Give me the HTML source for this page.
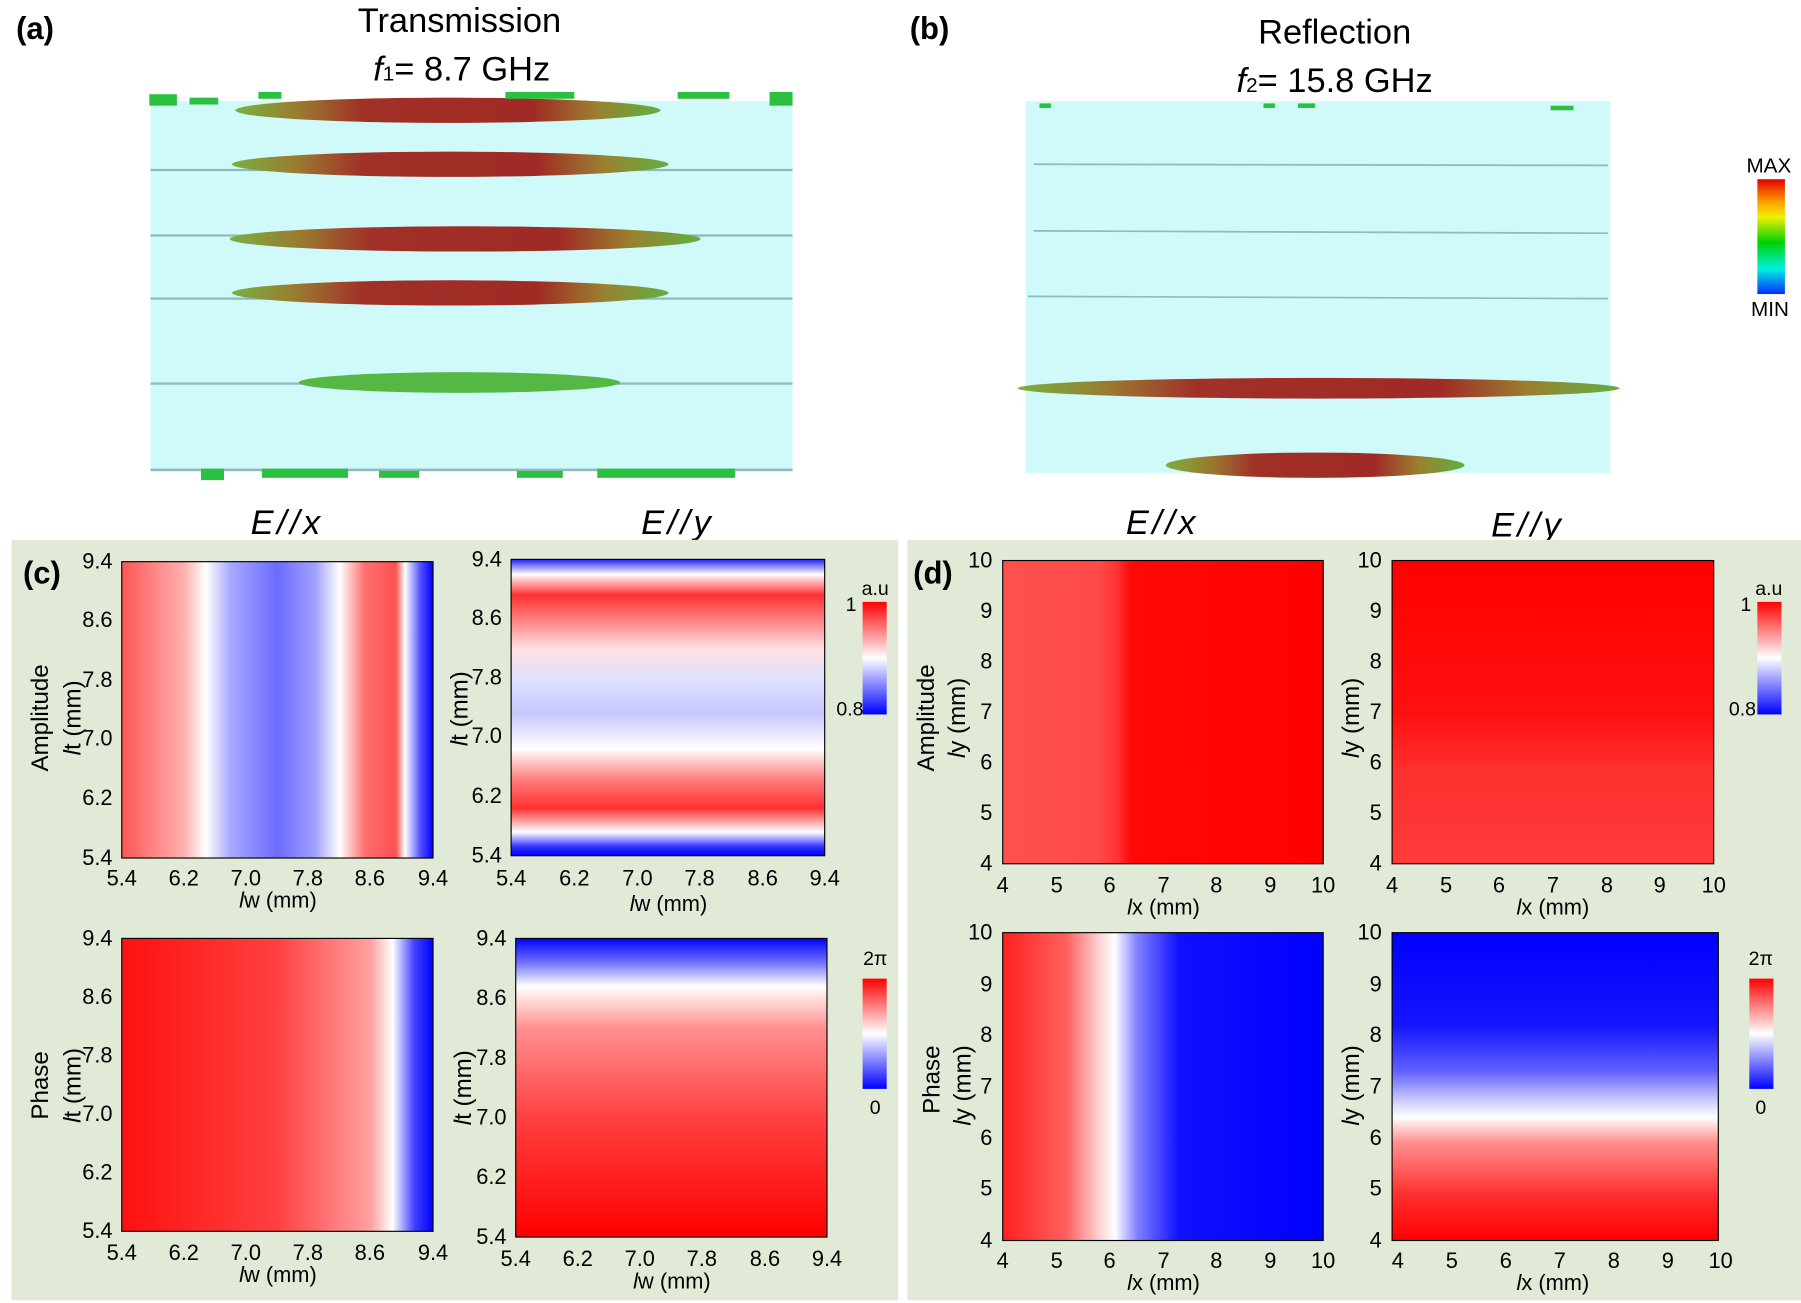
<!DOCTYPE html>
<html><head><meta charset="utf-8"><style>
html,body{margin:0;padding:0;background:#fff;}
svg{display:block;}
text{font-family:"Liberation Sans",Arial,sans-serif;}
</style></head><body>
<svg width="1801" height="1303" viewBox="0 0 1568 1134.4" xmlns="http://www.w3.org/2000/svg">
<defs>
<linearGradient id="gc1" x1="0" x2="1" y1="0" y2="0">
<stop offset="0" stop-color="#ff5555"/><stop offset="0.2" stop-color="#ffb0b0"/><stop offset="0.27" stop-color="#ffffff"/><stop offset="0.35" stop-color="#a8a8ff"/><stop offset="0.5" stop-color="#6b6bff"/><stop offset="0.62" stop-color="#a0a0ff"/><stop offset="0.7" stop-color="#ffffff"/><stop offset="0.78" stop-color="#ff7070"/><stop offset="0.88" stop-color="#ff5050"/><stop offset="0.91" stop-color="#ffffff"/><stop offset="0.96" stop-color="#5050ff"/><stop offset="1" stop-color="#0000ff"/>
</linearGradient>
<linearGradient id="gc2" x1="0" x2="0" y1="0" y2="1">
<stop offset="0" stop-color="#2020ff"/><stop offset="0.05" stop-color="#ffffff"/><stop offset="0.12" stop-color="#ff3030"/><stop offset="0.22" stop-color="#ff9090"/><stop offset="0.3" stop-color="#ffe0e0"/><stop offset="0.4" stop-color="#e0e0ff"/><stop offset="0.52" stop-color="#c8c8ff"/><stop offset="0.64" stop-color="#ffffff"/><stop offset="0.74" stop-color="#ff8080"/><stop offset="0.84" stop-color="#ff3030"/><stop offset="0.92" stop-color="#ffffff"/><stop offset="0.97" stop-color="#3030ff"/><stop offset="1" stop-color="#0000ff"/>
</linearGradient>
<linearGradient id="gc3" x1="0" x2="1" y1="0" y2="0">
<stop offset="0" stop-color="#ff1010"/><stop offset="0.5" stop-color="#ff4040"/><stop offset="0.8" stop-color="#ffa0a0"/><stop offset="0.87" stop-color="#ffffff"/><stop offset="0.94" stop-color="#4040ff"/><stop offset="1" stop-color="#0000ff"/>
</linearGradient>
<linearGradient id="gc4" x1="0" x2="0" y1="0" y2="1">
<stop offset="0" stop-color="#0000ff"/><stop offset="0.08" stop-color="#7070ff"/><stop offset="0.16" stop-color="#ffffff"/><stop offset="0.3" stop-color="#ff9090"/><stop offset="0.6" stop-color="#ff4040"/><stop offset="1" stop-color="#ff0000"/>
</linearGradient>
<linearGradient id="gd1" x1="0" x2="1" y1="0" y2="0">
<stop offset="0" stop-color="#ff5050"/><stop offset="0.3" stop-color="#ff4a4a"/><stop offset="0.36" stop-color="#ff3030"/><stop offset="0.4" stop-color="#ff0808"/><stop offset="1" stop-color="#ff0000"/>
</linearGradient>
<linearGradient id="gd2" x1="0" x2="0" y1="0" y2="1">
<stop offset="0" stop-color="#ff0000"/><stop offset="0.5" stop-color="#ff1010"/><stop offset="0.7" stop-color="#ff3030"/><stop offset="1" stop-color="#ff3a3a"/>
</linearGradient>
<linearGradient id="gd3" x1="0" x2="1" y1="0" y2="0">
<stop offset="0" stop-color="#ff2020"/><stop offset="0.2" stop-color="#ff6060"/><stop offset="0.3" stop-color="#ffd0d0"/><stop offset="0.35" stop-color="#ffffff"/><stop offset="0.42" stop-color="#8080ff"/><stop offset="0.55" stop-color="#1010ff"/><stop offset="1" stop-color="#0000ff"/>
</linearGradient>
<linearGradient id="gd4" x1="0" x2="0" y1="0" y2="1">
<stop offset="0" stop-color="#0000ff"/><stop offset="0.3" stop-color="#1515ff"/><stop offset="0.45" stop-color="#6060ff"/><stop offset="0.55" stop-color="#d0d0ff"/><stop offset="0.6" stop-color="#ffffff"/><stop offset="0.68" stop-color="#ff9090"/><stop offset="0.85" stop-color="#ff3030"/><stop offset="1" stop-color="#ff0000"/>
</linearGradient>
<linearGradient id="gcb" x1="0" x2="0" y1="0" y2="1">
<stop offset="0" stop-color="#ff0000"/><stop offset="0.5" stop-color="#ffffff"/><stop offset="1" stop-color="#0000ff"/>
</linearGradient>
<linearGradient id="gjet" x1="0" x2="0" y1="0" y2="1">
<stop offset="0" stop-color="#e00000"/><stop offset="0.2" stop-color="#ffa000"/><stop offset="0.33" stop-color="#f0f000"/><stop offset="0.55" stop-color="#00d000"/><stop offset="0.78" stop-color="#00f0e0"/><stop offset="1" stop-color="#0030ff"/>
</linearGradient>
<linearGradient id="arr" x1="0" x2="1" y1="0" y2="0">
<stop offset="0" stop-color="#7ab040"/><stop offset="0.15" stop-color="#9a7a30"/><stop offset="0.3" stop-color="#a03028"/><stop offset="0.7" stop-color="#a02a25"/><stop offset="0.85" stop-color="#9a8030"/><stop offset="1" stop-color="#60b040"/>
</linearGradient>
</defs>

<!-- top labels -->
<text x="14" y="34" font-size="27" font-weight="bold">(a)</text>
<text x="792" y="34" font-size="27" font-weight="bold">(b)</text>
<text x="400" y="28" font-size="30" text-anchor="middle">Transmission</text>
<text x="402" y="70" font-size="30" text-anchor="middle"><tspan font-style="italic">f</tspan><tspan font-size="18">1</tspan>= 8.7 GHz</text>
<text x="1162" y="38" font-size="30" text-anchor="middle">Reflection</text>
<text x="1162" y="80" font-size="30" text-anchor="middle"><tspan font-style="italic">f</tspan><tspan font-size="18">2</tspan>= 15.8 GHz</text>

<!-- (a) panel -->
<rect x="131" y="88" width="559" height="323" fill="#d0fafa"/>
<g stroke="#8fbaba" stroke-width="2">
<line x1="131" y1="148" x2="690" y2="148"/><line x1="131" y1="205" x2="690" y2="205"/><line x1="131" y1="260" x2="690" y2="260"/><line x1="131" y1="334" x2="690" y2="334"/><line x1="131" y1="409" x2="690" y2="409"/>
</g>
<ellipse cx="390" cy="96" rx="185" ry="11" fill="url(#arr)"/>
<ellipse cx="392" cy="143" rx="190" ry="11" fill="url(#arr)"/>
<ellipse cx="405" cy="208" rx="205" ry="11" fill="url(#arr)"/>
<ellipse cx="392" cy="255" rx="190" ry="11" fill="url(#arr)"/>
<ellipse cx="400" cy="333" rx="140" ry="9" fill="#55b845"/>
<g fill="#2cc040">
<rect x="130" y="82" width="24" height="10"/><rect x="165" y="85" width="25" height="6"/><rect x="225" y="80" width="20" height="6"/><rect x="440" y="80" width="60" height="6"/><rect x="590" y="80" width="45" height="6"/><rect x="670" y="80" width="20" height="12"/>
<rect x="175" y="408" width="20" height="10"/><rect x="228" y="408" width="75" height="8"/><rect x="330" y="410" width="35" height="6"/><rect x="450" y="410" width="40" height="6"/><rect x="520" y="408" width="120" height="8"/>
</g>

<!-- (b) panel -->
<rect x="893" y="88" width="509" height="324" fill="#d0fafa"/>
<g stroke="#8fbaba" stroke-width="1.5">
<line x1="900" y1="143" x2="1400" y2="144"/><line x1="900" y1="201" x2="1400" y2="203"/><line x1="895" y1="258" x2="1400" y2="260"/>
</g>
<g fill="#2cc040"><rect x="905" y="90" width="10" height="4"/><rect x="1100" y="90" width="10" height="4"/><rect x="1130" y="90" width="15" height="4"/><rect x="1350" y="92" width="20" height="4"/></g>
<ellipse cx="1148" cy="338" rx="262" ry="9" fill="url(#arr)"/>
<ellipse cx="1145" cy="405" rx="130" ry="11" fill="url(#arr)"/>

<!-- jet colorbar -->
<rect x="1530" y="156" width="24" height="100" fill="url(#gjet)"/>
<text x="1540" y="150" font-size="18" text-anchor="middle">MAX</text>
<text x="1541" y="275" font-size="18" text-anchor="middle">MIN</text>

<!-- E labels -->
<text x="250" y="465" font-size="30" font-style="italic" text-anchor="middle" letter-spacing="3">E//x</text>
<text x="590" y="465" font-size="30" font-style="italic" text-anchor="middle" letter-spacing="3">E//y</text>
<text x="1012" y="465" font-size="30" font-style="italic" text-anchor="middle" letter-spacing="3">E//x</text>
<text x="1330" y="467" font-size="30" font-style="italic" text-anchor="middle" letter-spacing="3">E//y</text>

<!-- green panels -->
<rect x="10" y="470" width="772" height="662" fill="#e0ead6"/>
<rect x="790" y="470" width="778" height="662" fill="#e0ead6"/>
<text x="20" y="508" font-size="27" font-weight="bold">(c)</text>
<text x="795" y="508" font-size="27" font-weight="bold">(d)</text>

<!-- c plots -->
<rect x="106" y="489" width="271" height="258" fill="url(#gc1)" stroke="#000" stroke-width="1"/>
<rect x="445" y="487" width="273" height="258" fill="url(#gc2)" stroke="#000" stroke-width="1"/>
<rect x="106" y="817" width="271" height="255" fill="url(#gc3)" stroke="#000" stroke-width="1"/>
<rect x="449" y="817" width="271" height="260" fill="url(#gc4)" stroke="#000" stroke-width="1"/>
<g font-size="19" text-anchor="end">
<text x="98" y="495">9.4</text><text x="98" y="546">8.6</text><text x="98" y="598">7.8</text><text x="98" y="649">7.0</text><text x="98" y="701">6.2</text><text x="98" y="753">5.4</text>
<text x="437" y="493">9.4</text><text x="437" y="544">8.6</text><text x="437" y="596">7.8</text><text x="437" y="647">7.0</text><text x="437" y="699">6.2</text><text x="437" y="751">5.4</text>
<text x="98" y="823">9.4</text><text x="98" y="874">8.6</text><text x="98" y="925">7.8</text><text x="98" y="976">7.0</text><text x="98" y="1027">6.2</text><text x="98" y="1078">5.4</text>
<text x="441" y="823">9.4</text><text x="441" y="875">8.6</text><text x="441" y="927">7.8</text><text x="441" y="979">7.0</text><text x="441" y="1031">6.2</text><text x="441" y="1083">5.4</text>
</g>
<g font-size="19" text-anchor="middle">
<text x="106" y="771">5.4</text><text x="160" y="771">6.2</text><text x="214" y="771">7.0</text><text x="268" y="771">7.8</text><text x="322" y="771">8.6</text><text x="377" y="771">9.4</text>
<text x="445" y="771">5.4</text><text x="500" y="771">6.2</text><text x="555" y="771">7.0</text><text x="609" y="771">7.8</text><text x="664" y="771">8.6</text><text x="718" y="771">9.4</text>
<text x="106" y="1097">5.4</text><text x="160" y="1097">6.2</text><text x="214" y="1097">7.0</text><text x="268" y="1097">7.8</text><text x="322" y="1097">8.6</text><text x="377" y="1097">9.4</text>
<text x="449" y="1102">5.4</text><text x="503" y="1102">6.2</text><text x="557" y="1102">7.0</text><text x="611" y="1102">7.8</text><text x="666" y="1102">8.6</text><text x="720" y="1102">9.4</text>
<text x="242" y="790"><tspan font-style="italic">l</tspan>w (mm)</text><text x="582" y="793"><tspan font-style="italic">l</tspan>w (mm)</text>
<text x="242" y="1116"><tspan font-style="italic">l</tspan>w (mm)</text><text x="585" y="1122"><tspan font-style="italic">l</tspan>w (mm)</text>
</g>
<g font-size="21" text-anchor="middle">
<text transform="translate(42,625) rotate(-90)">Amplitude</text>
<text transform="translate(70,625) rotate(-90)"><tspan font-style="italic">l</tspan>t (mm)</text>
<text transform="translate(407,617) rotate(-90)"><tspan font-style="italic">l</tspan>t (mm)</text>
<text transform="translate(42,945) rotate(-90)">Phase</text>
<text transform="translate(70,945) rotate(-90)"><tspan font-style="italic">l</tspan>t (mm)</text>
<text transform="translate(410,947) rotate(-90)"><tspan font-style="italic">l</tspan>t (mm)</text>
</g>
<rect x="751" y="524" width="21" height="98" fill="url(#gcb)"/>
<rect x="751" y="852" width="21" height="96" fill="url(#gcb)"/>
<g font-size="17" text-anchor="middle"><text x="762" y="518">a.u</text><text x="741" y="532">1</text><text x="740" y="623">0.8</text><text x="762" y="840">2π</text><text x="762" y="970">0</text></g>

<!-- d plots -->
<rect x="873" y="488" width="279" height="264" fill="url(#gd1)" stroke="#000" stroke-width="1"/>
<rect x="1212" y="488" width="280" height="264" fill="url(#gd2)" stroke="#000" stroke-width="1"/>
<rect x="873" y="812" width="279" height="268" fill="url(#gd3)" stroke="#000" stroke-width="1"/>
<rect x="1212" y="812" width="284" height="268" fill="url(#gd4)" stroke="#000" stroke-width="1"/>
<g font-size="19" text-anchor="end">
<text x="864" y="494">10</text><text x="864" y="538">9</text><text x="864" y="582">8</text><text x="864" y="626">7</text><text x="864" y="670">6</text><text x="864" y="714">5</text><text x="864" y="758">4</text>
<text x="1203" y="494">10</text><text x="1203" y="538">9</text><text x="1203" y="582">8</text><text x="1203" y="626">7</text><text x="1203" y="670">6</text><text x="1203" y="714">5</text><text x="1203" y="758">4</text>
<text x="864" y="818">10</text><text x="864" y="863">9</text><text x="864" y="907">8</text><text x="864" y="952">7</text><text x="864" y="997">6</text><text x="864" y="1041">5</text><text x="864" y="1086">4</text>
<text x="1203" y="818">10</text><text x="1203" y="863">9</text><text x="1203" y="907">8</text><text x="1203" y="952">7</text><text x="1203" y="997">6</text><text x="1203" y="1041">5</text><text x="1203" y="1086">4</text>
</g>
<g font-size="19" text-anchor="middle">
<text x="873" y="777">4</text><text x="920" y="777">5</text><text x="966" y="777">6</text><text x="1013" y="777">7</text><text x="1059" y="777">8</text><text x="1106" y="777">9</text><text x="1152" y="777">10</text>
<text x="1212" y="777">4</text><text x="1259" y="777">5</text><text x="1305" y="777">6</text><text x="1352" y="777">7</text><text x="1399" y="777">8</text><text x="1445" y="777">9</text><text x="1492" y="777">10</text>
<text x="873" y="1104">4</text><text x="920" y="1104">5</text><text x="966" y="1104">6</text><text x="1013" y="1104">7</text><text x="1059" y="1104">8</text><text x="1106" y="1104">9</text><text x="1152" y="1104">10</text>
<text x="1217" y="1104">4</text><text x="1264" y="1104">5</text><text x="1311" y="1104">6</text><text x="1358" y="1104">7</text><text x="1405" y="1104">8</text><text x="1452" y="1104">9</text><text x="1498" y="1104">10</text>
<text x="1013" y="796"><tspan font-style="italic">l</tspan>x (mm)</text><text x="1352" y="796"><tspan font-style="italic">l</tspan>x (mm)</text>
<text x="1013" y="1123"><tspan font-style="italic">l</tspan>x (mm)</text><text x="1352" y="1123"><tspan font-style="italic">l</tspan>x (mm)</text>
</g>
<g font-size="21" text-anchor="middle">
<text transform="translate(813,625) rotate(-90)">Amplitude</text>
<text transform="translate(840,625) rotate(-90)"><tspan font-style="italic">l</tspan>y (mm)</text>
<text transform="translate(1183,625) rotate(-90)"><tspan font-style="italic">l</tspan>y (mm)</text>
<text transform="translate(818,940) rotate(-90)">Phase</text>
<text transform="translate(845,945) rotate(-90)"><tspan font-style="italic">l</tspan>y (mm)</text>
<text transform="translate(1183,945) rotate(-90)"><tspan font-style="italic">l</tspan>y (mm)</text>
</g>
<rect x="1530" y="524" width="21" height="98" fill="url(#gcb)"/>
<rect x="1523" y="852" width="21" height="96" fill="url(#gcb)"/>
<g font-size="17" text-anchor="middle"><text x="1540" y="518">a.u</text><text x="1520" y="532">1</text><text x="1517" y="623">0.8</text><text x="1533" y="840">2π</text><text x="1533" y="970">0</text></g>
</svg>
</body></html>
